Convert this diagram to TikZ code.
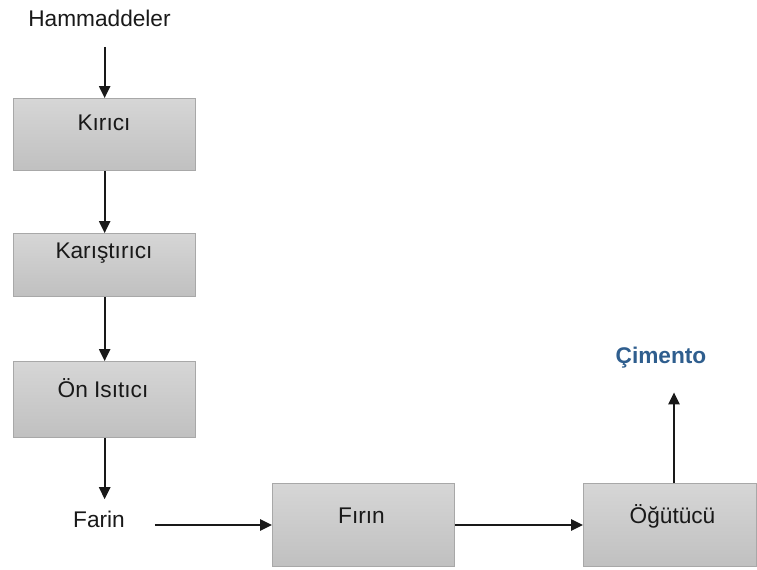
\documentclass[tikz,border=0pt]{standalone}
\usepackage{fontspec}
\setmainfont{Liberation Sans}
\usepackage{tikz}
\usetikzlibrary{arrows.meta,positioning,calc}
\definecolor{boxtop}{HTML}{D6D6D6}
\definecolor{boxbot}{HTML}{C0C0C0}
\definecolor{boxline}{HTML}{A8A8A8}
\definecolor{cementblue}{HTML}{2F5E8E}
\tikzset{
  procbox/.style={
    rectangle, draw=boxline, top color=boxtop, bottom color=boxbot,
    line width=1pt, anchor=north west, inner sep=0pt
  },
  steptext/.style={
    font=\fontsize{17}{20}\selectfont, text=black!90, anchor=base
  },
  flowarrow/.style={
    -{Triangle[length=9pt,width=8.5pt]}, line width=1.3pt, color=black!90
  },
}

\begin{document}
\begin{tikzpicture}[x=0.75pt, y=-0.75pt]
\useasboundingbox (0,0) rectangle (757,569);

% Raw material and the vertical chain
\node[steptext] (ham) at (99.5,26) {Hammaddeler};

\node[procbox, minimum width=136.5pt, minimum height=54pt] (kirici) at (13,98) {};
\node[steptext] (kiricitxt) at (104,130) {Kırıcı};

\node[procbox, minimum width=136.5pt, minimum height=47pt] (karistirici) at (13,233) {};
\node[steptext] (karistiricitxt) at (104,258) {Karıştırıcı};

\node[procbox, minimum width=136.5pt, minimum height=57pt] (onisitici) at (13,361) {};
\node[steptext] (onisiticitxt) at (103,397) {Ön Isıtıcı};

\node[steptext] (farin) at (99,527) {Farin};

% Horizontal chain
\node[procbox, minimum width=136.5pt, minimum height=62pt] (firin) at (272,483) {};
\node[steptext] (firintxt) at (361.5,523) {Fırın};

\node[procbox, minimum width=129.5pt, minimum height=62pt] (ogutucu) at (583,483) {};
\node[steptext] (ogutucutxt) at (672.5,523) {Öğütücü};

\node[steptext, text=cementblue, font=\fontsize{17}{20}\selectfont\bfseries] (cimento) at (661,363) {Çimento};

% Arrows down
\draw[flowarrow, shorten <=12pt] (kirici.north |- ham.south) -- (kirici.north);
\draw[flowarrow] (kirici.south) -- (karistirici.north);
\draw[flowarrow] (karistirici.south) -- (onisitici.north);
\draw[flowarrow, shorten >=5pt] (onisitici.south) -- (onisitici.south |- farin.north);

% Arrows right
\draw[flowarrow, shorten <=19pt] (farin.east |- firin.west) -- (firin.west);
\draw[flowarrow] (firin.east) -- (ogutucu.west);

% Product out
\draw[flowarrow, shorten >=15pt] ([xshift=3pt]ogutucu.north) -- ([xshift=3pt]ogutucu.north |- cimento.south);

\end{tikzpicture}
\end{document}
